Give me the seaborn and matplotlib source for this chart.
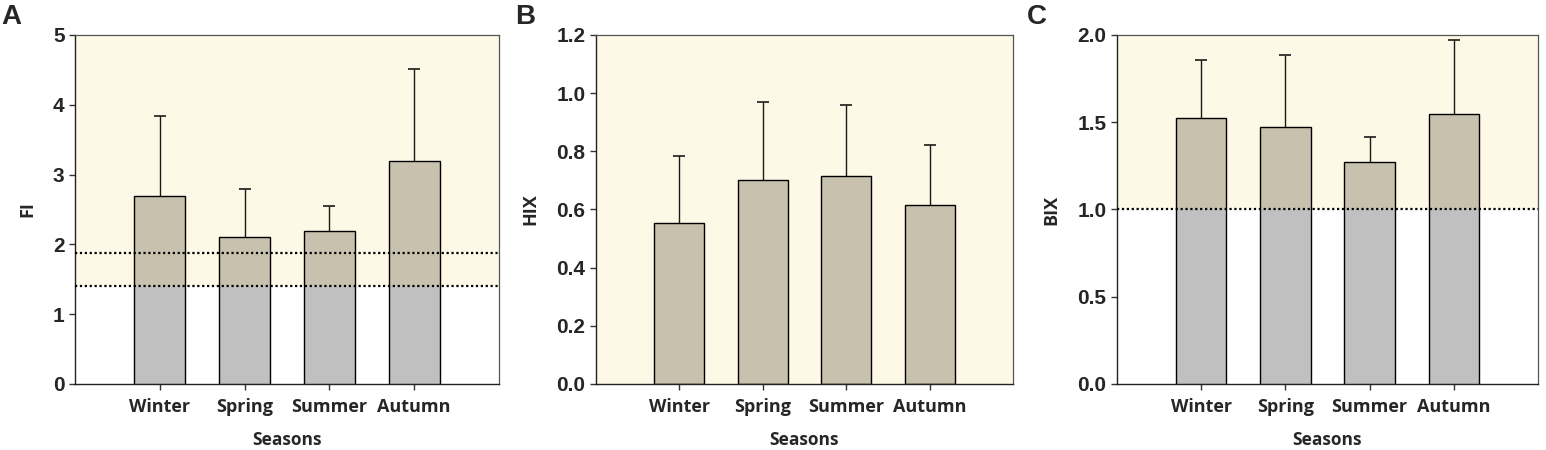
import matplotlib
matplotlib.use("Agg")
import matplotlib.pyplot as plt
import seaborn as sns
import numpy as np
import pandas as pd

# Données
seasons = ["Winter", "Spring", "Summer", "Autumn"]

fi_mean = [2.70, 2.10, 2.19, 3.19]
fi_err = [1.14, 0.69, 0.365, 1.32]
fi_lines = [1.4, 1.88]

hix_mean = [0.555, 0.70, 0.716, 0.617]
hix_err = [0.228, 0.268, 0.242, 0.206]

bix_mean = [1.524, 1.475, 1.27, 1.545]
bix_err = [0.331, 0.408, 0.145, 0.426]
bix_lines = [1.0]

CREAM = "#fef8e6"
TAUPE = "#c8c1ad"
GREY = "#c0c0c0"

sns.set_style("ticks")
plt.rcParams['font.family'] = ['Liberation Sans', 'DejaVu Sans']

fig = plt.figure(figsize=(15.46, 4.5), dpi=100)
axes = [
    fig.add_axes([0.0485, 0.1467, 0.2743, 0.7756]),
    fig.add_axes([0.3855, 0.1467, 0.2697, 0.7756]),
    fig.add_axes([0.7225, 0.1467, 0.2723, 0.7756]),
]

panels = [
    ("A", "FI", fi_mean, fi_err, fi_lines, 5, np.arange(0, 5.1, 1), "{:.0f}"),
    ("B", "HIX", hix_mean, hix_err, [], 1.2, np.arange(0, 1.21, 0.2), "{:.1f}"),
    ("C", "BIX", bix_mean, bix_err, bix_lines, 2.0, np.arange(0, 2.01, 0.5), "{:.1f}"),
]

for ax, (letter, ylab, mean, err, lines, ymax, yticks, fmt) in zip(axes, panels):
    df = pd.DataFrame({"season": seasons, "value": mean, "err": err})
    thr = min(lines) if lines else 0
    df["low"] = np.minimum(df["value"], thr)

    # fond : blanc sous le seuil, crème au-dessus
    ax.set_facecolor("white")
    ax.axhspan(thr, ymax, color=CREAM, zorder=0, lw=0)

    sns.barplot(data=df, x="season", y="value", color=TAUPE, width=0.6,
                saturation=1, edgecolor="none", linewidth=0, ax=ax, zorder=2)
    if lines:
        sns.barplot(data=df, x="season", y="low", color=GREY, width=0.6,
                    saturation=1, edgecolor="none", linewidth=0, ax=ax, zorder=3)
    sns.barplot(data=df, x="season", y="value", fill=False, width=0.6,
                edgecolor="black", linewidth=1.0, ax=ax, zorder=4)

    eb = ax.errorbar(range(len(seasons)), df["value"],
                     yerr=[np.zeros(len(seasons)), df["err"]],
                     fmt="none", ecolor="#1a1a1a", elinewidth=1.0,
                     capsize=4.5, capthick=1.2, zorder=1)
    # pas de cap en bas
    eb[1][0].set_visible(False)

    for y in lines:
        ax.axhline(y, color="black", ls=(0, (1, 1.2)), lw=1.6, zorder=5)

    ax.set_xlim(-1, 4)
    ax.set_ylim(0, ymax)
    ax.set_yticks(yticks)
    ax.set_yticklabels([fmt.format(t) for t in yticks], fontsize=15,
                       fontweight="bold")
    ax.set_xticks(range(len(seasons)))
    ax.set_xticklabels(seasons, fontsize=13, fontweight="bold",
                       family=["Open Sans", "DejaVu Sans"])
    ax.tick_params(axis="both", direction="out", length=4, width=1,
                   color="#333333")
    ax.tick_params(axis="x", pad=6)
    ax.set_xlabel("Seasons", fontsize=12.5, fontweight="bold",
                  family=["Open Sans", "DejaVu Sans"], labelpad=11)
    ax.set_ylabel(ylab, fontsize=13, fontweight="bold",
                  family=["Open Sans", "DejaVu Sans"], labelpad=12)
    for side in ["left", "bottom"]:
        ax.spines[side].set_color("#222222")
        ax.spines[side].set_linewidth(1.0)
    for side in ["top", "right"]:
        ax.spines[side].set_color("#555555")
        ax.spines[side].set_linewidth(0.9)

fig.text(0.001, 0.99, "A", fontsize=20, fontweight="bold", va="top")
fig.text(0.333, 0.99, "B", fontsize=20, fontweight="bold", va="top")
fig.text(0.664, 0.99, "C", fontsize=20, fontweight="bold", va="top")

fig.savefig("out.png", dpi=100)
